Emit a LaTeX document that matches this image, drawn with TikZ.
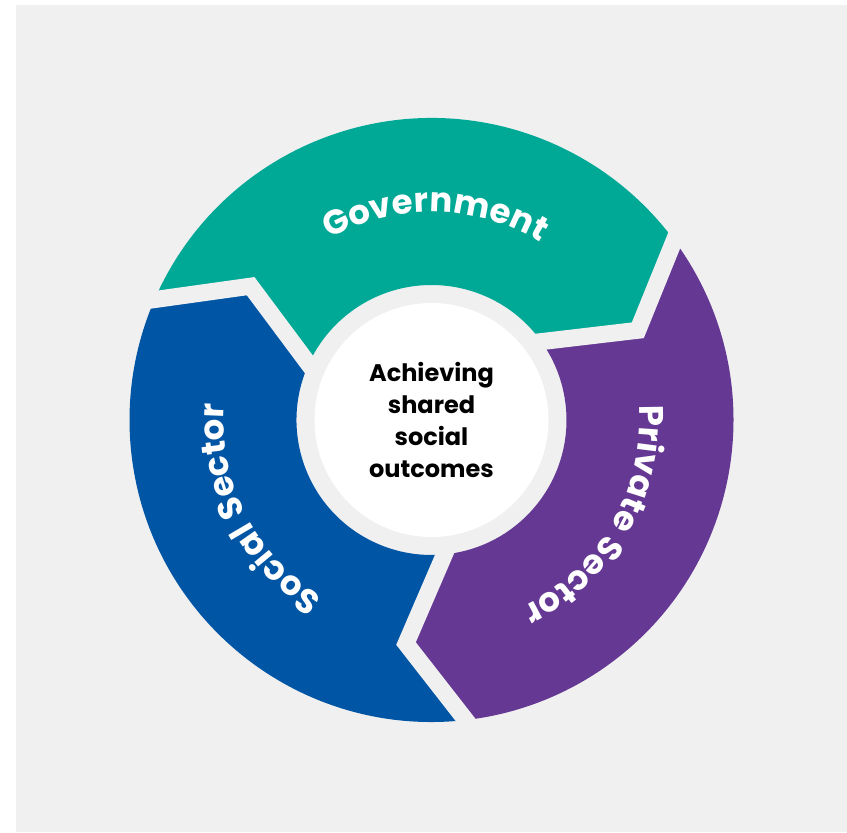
\documentclass[tikz,border=0pt]{standalone}
\usepackage{fontspec}
\setmainfont{Poppins}
\newfontfamily\ringfont[LetterSpace=6]{Poppins}
\usetikzlibrary{calc,decorations.text}
\definecolor{govgreen}{HTML}{00A896}
\definecolor{socblue}{HTML}{0055A5}
\definecolor{privpurple}{HTML}{643893}
\definecolor{backgray}{HTML}{F0F0F0}
\tikzset{
  ringtext/.style={decorate, decoration={text along path, text align=center,
      text color=white, text={|\ringfont\bfseries\fontsize{17}{20}\selectfont|#1}}},
  gapline/.style={draw=backgray, line width=8.5pt, line join=miter, miter limit=20}
}

\begin{document}
\begin{tikzpicture}
  \useasboundingbox (-215.75pt,-206pt) rectangle (207.75pt,210pt);
  \fill[backgray] (-207.75pt,-206pt) rectangle (207.75pt,207.5pt);
  % three arrow shaped sectors
  \foreach \a/\col in {156.5/govgreen, 36.5/privpurple, 276.5/socblue}
    \fill[\col] ({\a}:151pt) arc[start angle=\a, end angle=\a-120, radius=151pt]
      -- ({\a-133}:112.5pt) -- ({\a-121}:67.5pt)
      arc[start angle=\a-121, end angle=\a-1, radius=67.5pt]
      -- ({\a-13}:112.5pt) -- cycle;
  % gaps between them
  \foreach \a in {36.5, 156.5, 276.5}
    \draw[gapline] ($({\a-13}:112.5pt)!1.3!({\a}:151pt)$) -- ({\a-13}:112.5pt)
      -- ($({\a-13}:112.5pt)!1.3!({\a-1}:67.5pt)$);
  \node[circle, fill=white, minimum size=117pt, align=center,
        font=\bfseries\fontsize{12}{15.9}\selectfont] (goal) at (0,0)
        {Achieving\\shared\\social\\outcomes};
  \path[ringtext=Government] (149:104pt) arc[start angle=149, end angle=29, radius=104pt];
  \path[ringtext=Private Sector] (30:104pt) arc[start angle=30, end angle=-90, radius=104pt];
  \path[ringtext=Social Sector] (267:104pt) arc[start angle=267, end angle=147, radius=104pt];
\end{tikzpicture}
\end{document}
